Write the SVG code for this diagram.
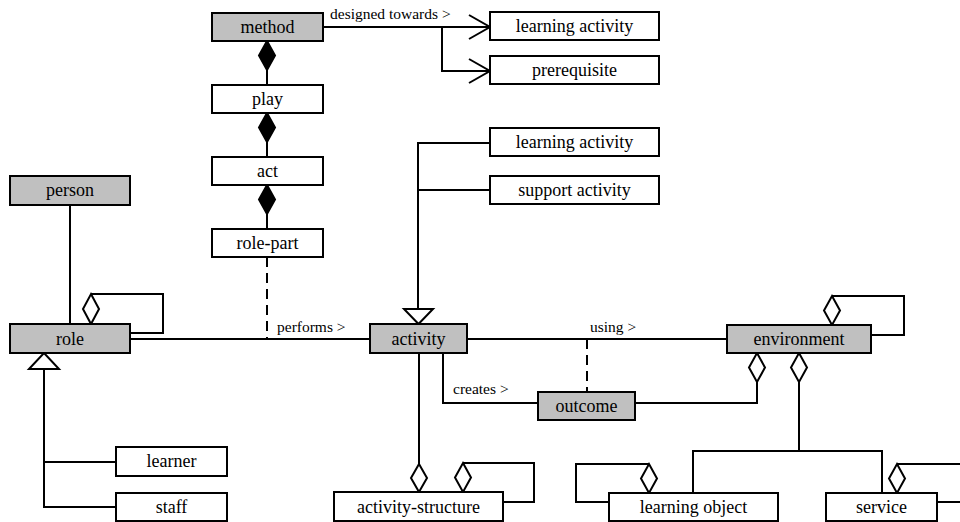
<svg xmlns="http://www.w3.org/2000/svg" width="960" height="522" viewBox="0 0 960 522">
  <defs>
    <style>
      .box { fill: #ffffff; stroke: #000000; stroke-width: 2; }
      .key { fill: #c0c0c0; stroke: #000000; stroke-width: 2; }
      .name { font-size: 18px; fill: #000000; text-anchor: middle; }
      .lbl { font-size: 15.5px; fill: #000000; }
      .ln { fill: none; stroke: #000000; stroke-width: 2; }
      .dash { fill: none; stroke: #000000; stroke-width: 2; stroke-dasharray: 10 6; }
      .comp { fill: #000000; stroke: #000000; stroke-width: 2; }
      .aggr { fill: #ffffff; stroke: #000000; stroke-width: 2; }
      .gen { fill: #ffffff; stroke: #000000; stroke-width: 2; }
    </style>
  </defs>
  <rect x="0" y="0" width="960" height="522" fill="#ffffff"/>

  <g id="connectors" font-family="Liberation Serif, Times New Roman, serif">
    <!-- method designed towards learning activity / prerequisite -->
    <path class="ln" d="M323,27 H490"/>
    <path class="ln" d="M469,15 L490,27 L469,39"/>
    <path class="ln" d="M442,27 V71 H490"/>
    <path class="ln" d="M469,59 L490,71 L469,83"/>
    <text class="lbl" x="330" y="19">designed towards &gt;</text>

    <!-- composition chain method / play / act / role-part -->
    <path class="ln" d="M267,70 V85"/>
    <path class="comp" d="M267,41 L275,55.5 L267,70 L259,55.5 Z"/>
    <path class="ln" d="M267,142 V157"/>
    <path class="comp" d="M267,113 L275,127.5 L267,142 L259,127.5 Z"/>
    <path class="ln" d="M267,214 V229"/>
    <path class="comp" d="M267,185 L275,199.5 L267,214 L259,199.5 Z"/>

    <!-- role-part to performs association -->
    <path class="dash" d="M267,257 V339"/>

    <!-- person - role -->
    <path class="ln" d="M70,205 V324"/>

    <!-- role self aggregation -->
    <path class="ln" d="M91,294 H163 V333 H130"/>
    <path class="aggr" d="M91,294 L99,309 L91,324 L83,309 Z"/>

    <!-- role performs activity -->
    <path class="ln" d="M130,339 H370"/>
    <text class="lbl" x="277" y="332">performs &gt;</text>

    <!-- activity subtypes -->
    <path class="ln" d="M490,143 H418 V309"/>
    <path class="ln" d="M418,190 H490"/>
    <path class="gen" d="M404,309 L433,309 L418.5,324 Z"/>

    <!-- activity using environment -->
    <path class="ln" d="M467,339 H727"/>
    <text class="lbl" x="590" y="332">using &gt;</text>
    <path class="dash" d="M587,339 V392"/>

    <!-- activity creates outcome -->
    <path class="ln" d="M443,353 V403 H538"/>
    <text class="lbl" x="453" y="394">creates &gt;</text>

    <!-- outcome part of environment -->
    <path class="ln" d="M635,403 H757 V382"/>
    <path class="aggr" d="M757,353 L765,367.5 L757,382 L749,367.5 Z"/>

    <!-- environment self aggregation -->
    <path class="ln" d="M832,296 H904 V335 H871"/>
    <path class="aggr" d="M832,296 L840,310.5 L832,325 L824,310.5 Z"/>

    <!-- environment contents -->
    <path class="ln" d="M799,382 V451"/>
    <path class="ln" d="M693,493 V451 H882 V493"/>
    <path class="aggr" d="M799,353 L807,367.5 L799,382 L791,367.5 Z"/>

    <!-- activity to activity-structure -->
    <path class="ln" d="M419,353 V464"/>
    <path class="aggr" d="M419,464 L427,478 L419,492 L411,478 Z"/>

    <!-- activity-structure self aggregation -->
    <path class="ln" d="M463,463 H534 V502 H503"/>
    <path class="aggr" d="M463,463 L471,477.5 L463,492 L455,477.5 Z"/>

    <!-- learning object self aggregation -->
    <path class="ln" d="M649,464 H576 V502 H609"/>
    <path class="aggr" d="M649,464 L657,478.5 L649,493 L641,478.5 Z"/>

    <!-- service self aggregation -->
    <path class="ln" d="M897,464 H966 V502 H937"/>
    <path class="aggr" d="M897,464 L905,478.5 L897,493 L889,478.5 Z"/>

    <!-- role subtypes -->
    <path class="ln" d="M44,369 V507 H116"/>
    <path class="ln" d="M44,462 H116"/>
    <path class="gen" d="M29,369 L59,369 L44,353 Z"/>
  </g>

  <g id="nodes" font-family="Liberation Serif, Times New Roman, serif">
    <g id="method"><rect class="key" x="212" y="13" width="111" height="28"/><text class="name" x="267.5" y="33">method</text></g>
    <g id="play"><rect class="box" x="212" y="85" width="111" height="28"/><text class="name" x="267.5" y="105">play</text></g>
    <g id="act"><rect class="box" x="212" y="157" width="111" height="28"/><text class="name" x="267.5" y="177">act</text></g>
    <g id="role-part"><rect class="box" x="212" y="229" width="111" height="28"/><text class="name" x="267.5" y="249">role-part</text></g>
    <g id="learning-activity-target"><rect class="box" x="490" y="12" width="169" height="28"/><text class="name" x="574.5" y="32">learning activity</text></g>
    <g id="prerequisite"><rect class="box" x="490" y="56" width="169" height="28"/><text class="name" x="574.5" y="76">prerequisite</text></g>
    <g id="learning-activity"><rect class="box" x="490" y="128" width="169" height="28"/><text class="name" x="574.5" y="148">learning activity</text></g>
    <g id="support-activity"><rect class="box" x="490" y="176" width="169" height="28"/><text class="name" x="574.5" y="196">support activity</text></g>
    <g id="person"><rect class="key" x="10" y="176" width="120" height="29"/><text class="name" x="70" y="196">person</text></g>
    <g id="role"><rect class="key" x="10" y="324" width="120" height="29"/><text class="name" x="70" y="345">role</text></g>
    <g id="activity"><rect class="key" x="370" y="324" width="97" height="29"/><text class="name" x="418.5" y="345">activity</text></g>
    <g id="environment"><rect class="key" x="727" y="325" width="144" height="28"/><text class="name" x="799" y="345">environment</text></g>
    <g id="outcome"><rect class="key" x="538" y="392" width="97" height="28"/><text class="name" x="586.5" y="412">outcome</text></g>
    <g id="learner"><rect class="box" x="116" y="447" width="111" height="29"/><text class="name" x="171.5" y="467">learner</text></g>
    <g id="staff"><rect class="box" x="116" y="493" width="111" height="28"/><text class="name" x="171.5" y="513">staff</text></g>
    <g id="activity-structure"><rect class="box" x="334" y="492" width="169" height="29"/><text class="name" x="418.5" y="513">activity-structure</text></g>
    <g id="learning-object"><rect class="box" x="609" y="493" width="169" height="28"/><text class="name" x="693.5" y="513">learning object</text></g>
    <g id="service"><rect class="box" x="826" y="493" width="111" height="28"/><text class="name" x="881.5" y="513">service</text></g>
  </g>
</svg>
